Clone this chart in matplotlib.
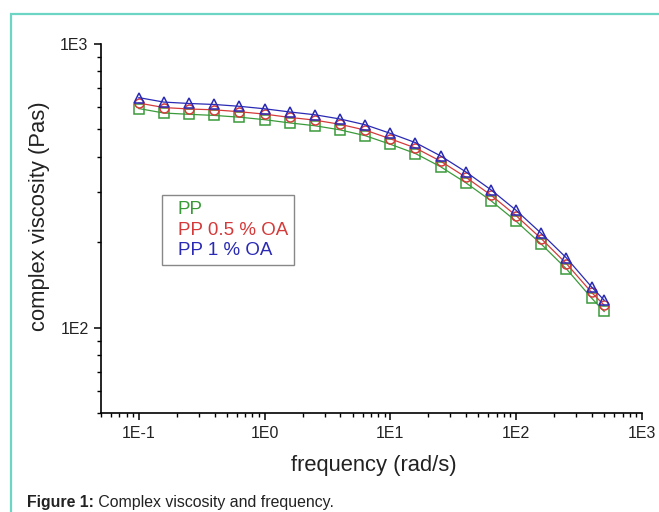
import matplotlib
matplotlib.use("Agg")
import matplotlib.pyplot as plt
import matplotlib.patches as patches
from matplotlib.ticker import LogLocator, FuncFormatter, NullFormatter
import numpy as np

plt.rcParams['font.family'] = ['Liberation Sans', 'DejaVu Sans']

# angular frequency (rad/s)
freq = [0.1, 0.158, 0.251, 0.398, 0.631, 1.0, 1.58, 2.51, 3.98, 6.31,
        10.0, 15.8, 25.1, 39.8, 63.1, 100.0, 158.0, 251.0, 398.0, 500.0]

# complex viscosity (Pa s)
eta_pp = [592, 571, 565, 560, 552, 541, 527, 515, 498, 475,
          443, 411, 369, 324, 280, 237, 197, 161, 127, 114]
eta_pp05 = [619, 597, 590, 586, 577, 566, 551, 539, 521, 497,
            463, 430, 386, 339, 293, 248, 206, 168, 133, 120]
eta_pp1 = [647, 624, 617, 612, 603, 591, 576, 563, 544, 519,
           484, 449, 403, 354, 306, 259, 215, 176, 139, 125]

labels = ['PP', 'PP 0.5 % OA', 'PP 1 % OA']
colors = ['#3a9a3a', '#d43a3a', '#2a2ab4']
markers = ['s', 'o', '^']

fig = plt.figure(figsize=(6.59, 5.12), dpi=100)
ax = fig.add_axes([101 / 659, 1 - 413 / 512, 541 / 659, 369 / 512])

for y, lab, c, m in zip([eta_pp, eta_pp05, eta_pp1], labels, colors, markers):
    ax.plot(freq, y, color=c, lw=0.9, marker=m, ms=6.5, mfc='none', mec=c,
            mew=1.1, label=lab)

ax.set_xscale('log')
ax.set_yscale('log')
ax.set_xlim(0.05, 1000)
ax.set_ylim(50, 1000)

fmt = FuncFormatter(lambda v, p: "1E%d" % int(round(np.log10(v))))
ax.xaxis.set_major_locator(LogLocator(base=10, numticks=10))
ax.xaxis.set_minor_locator(LogLocator(base=10, subs=np.arange(2, 10), numticks=10))
ax.yaxis.set_major_locator(LogLocator(base=10, numticks=10))
ax.yaxis.set_minor_locator(LogLocator(base=10, subs=np.arange(2, 10), numticks=10))
ax.xaxis.set_major_formatter(fmt)
ax.yaxis.set_major_formatter(fmt)
ax.xaxis.set_minor_formatter(NullFormatter())
ax.yaxis.set_minor_formatter(NullFormatter())

for s in ['top', 'right']:
    ax.spines[s].set_visible(False)
for s in ['left', 'bottom']:
    ax.spines[s].set_linewidth(1.2)
ax.tick_params(which='major', direction='out', length=5, width=1.1,
               labelsize=11.5, labelcolor='#222222', pad=4)
ax.tick_params(which='minor', direction='out', length=3, width=1.0)

fig.text(374 / 659, 1 - 466 / 512, 'frequency (rad/s)', ha='center', va='center',
         fontsize=15.8, color='#222222')
fig.text(40 / 659, 1 - 216 / 512, 'complex viscosity (Pas)', ha='center', va='center',
         rotation=90, fontsize=15.8, color='#222222')

leg = ax.legend(loc='upper left', bbox_to_anchor=(0.113, 0.591), borderaxespad=0,
                handlelength=0, handletextpad=0.5, fontsize=13.5, labelspacing=0.18,
                fancybox=False, edgecolor='#888888', framealpha=1,
                borderpad=0.32)
leg.get_frame().set_linewidth(1.0)
for h in leg.legend_handles:
    h.set_visible(False)
for t, c in zip(leg.get_texts(), colors):
    t.set_color(c)

# caption
t1 = fig.text(27 / 659, 1 - 502 / 512, 'Figure 1:', fontsize=11.4, fontweight='bold',
              va='center', color='#222222')
fig.canvas.draw()
bb = t1.get_window_extent(renderer=fig.canvas.get_renderer())
x2 = fig.transFigure.inverted().transform((bb.x1, bb.y0))[0]
fig.text(x2, 1 - 502 / 512, ' Complex viscosity and frequency.', fontsize=11.4,
         va='center', color='#222222')

# teal frame
frame = patches.Rectangle((11 / 659, -0.2), 1.5, 1.2 - 14 / 512, transform=fig.transFigure,
                          fill=False, edgecolor='#6dd5c4', lw=1.6, clip_on=False)
fig.patches.append(frame)

fig.savefig('out.png', dpi=100)
